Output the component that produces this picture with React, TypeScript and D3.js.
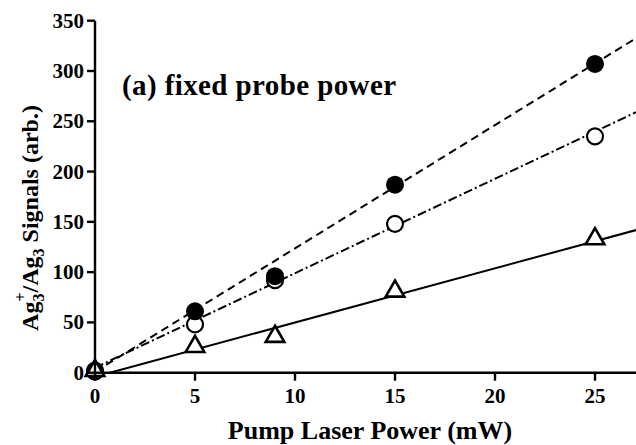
import React from "react";
import * as d3 from "d3";

const powers = [0, 5, 9, 15, 25];
const filledSignals = [1, 61, 96, 187, 307];
const openSignals = [2, 48, 92, 148, 235];
const triangleSignals = [1, 25, 35, 80, 132];

const fitSlopes = [12.26, 9.39, 5.39];
const fitIntercepts = [1, 5, -4];
const fitDash = ["8,5", "9,3,2,3", "none"];

const xTicks = [0, 5, 10, 15, 20, 25];
const yTicks = [0, 50, 100, 150, 200, 250, 300, 350];

const W = 636;
const H = 445;
const FONT = "'Liberation Serif', 'DejaVu Serif', serif";

export default function App() {
  const x = d3.scaleLinear().domain([0, 27.05]).range([95, 636]);
  const y = d3.scaleLinear().domain([0, 350]).range([372.7, 20.7]);
  const [x0, x1] = x.domain();

  const fitLines = fitSlopes.map((m, i) => {
    const b = fitIntercepts[i];
    const start = Math.max(x0, b < 0 ? -b / m : x0);
    const pts: [number, number][] = [
      [start, m * start + b],
      [x1, m * x1 + b],
    ];
    const line = d3
      .line<[number, number]>()
      .x((d) => x(d[0]))
      .y((d) => y(d[1]));
    return { d: line(pts) || "", dash: fitDash[i] };
  });

  const tri = d3.symbol().type(d3.symbolTriangle).size(150);

  return (
    <svg
      width={W}
      height={H}
      style={{ position: "absolute", left: 0, top: 0, background: "#fff" }}
      fontFamily={FONT}
      fontWeight="bold"
    >
      {/* fit lines */}
      {fitLines.map((l, i) => (
        <path
          key={i}
          d={l.d}
          fill="none"
          stroke="#000"
          strokeWidth={2}
          strokeDasharray={l.dash}
        />
      ))}

      {/* markers */}
      {powers.map((p, i) => (
        <circle key={"o" + i} cx={x(p)} cy={y(openSignals[i])} r={8} fill="#fff" stroke="#000" strokeWidth={2.2} />
      ))}
      {powers.map((p, i) => (
        <circle key={"f" + i} cx={x(p)} cy={y(filledSignals[i])} r={9} fill="#000" />
      ))}
      {powers.map((p, i) => (
        <path
          key={"t" + i}
          d={tri() || ""}
          transform={`translate(${x(p)},${y(triangleSignals[i]) - 1})`}
          fill="#fff"
          stroke="#000"
          strokeWidth={2.6}
        />
      ))}

      {/* axes */}
      <line x1={x(0)} x2={W} y1={y(0)} y2={y(0)} stroke="#000" strokeWidth={2.4} />
      <line x1={x(0)} x2={x(0)} y1={y(0)} y2={y(350)} stroke="#000" strokeWidth={2.4} />
      {xTicks.map((t) => (
        <g key={"xt" + t}>
          <line x1={x(t)} x2={x(t)} y1={y(0)} y2={y(0) + 8} stroke="#000" strokeWidth={2.4} />
          <text x={x(t)} y={y(0) + 30} textAnchor="middle" fontSize={21}>
            {t}
          </text>
        </g>
      ))}
      {yTicks.map((t) => (
        <g key={"yt" + t}>
          <line x1={x(0) - 8} x2={x(0)} y1={y(t)} y2={y(t)} stroke="#000" strokeWidth={2.4} />
          <text x={x(0) - 11} y={y(t) + 7} textAnchor="end" fontSize={21}>
            {t}
          </text>
        </g>
      ))}

      {/* title */}
      <text x={122} y={95} fontSize={29} letterSpacing={0.4}>
        (a) fixed probe power
      </text>

      {/* x axis title */}
      <text x={370} y={439} textAnchor="middle" fontSize={26}>
        Pump Laser Power (mW)
      </text>

      {/* y axis title */}
      <text transform="translate(38,218) rotate(-90)" textAnchor="middle" fontSize={24}>
        <tspan>Ag</tspan>
        <tspan dy={6} fontSize={16}>3</tspan>
        <tspan dx={-8} dy={-18} fontSize={16}>+</tspan>
        <tspan dy={12}>/Ag</tspan>
        <tspan dy={6} fontSize={16}>3</tspan>
        <tspan dy={-6}> Signals (arb.)</tspan>
      </text>
    </svg>
  );
}
